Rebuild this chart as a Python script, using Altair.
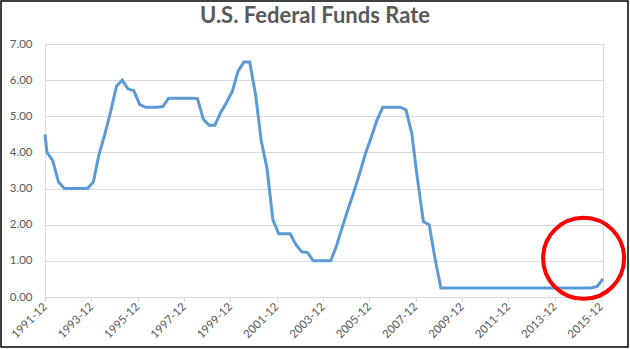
import altair as alt
import pandas as pd

# Quarterly U.S. Federal Funds Rate
dates = (
    ["1991-12-01"]
    + [f"{y}-{m}-01" for y in range(1992, 2016) for m in ("01", "04", "07", "10")]
    + ["2016-01-01"]
)
rates = [
    4.50,
    4.00, 3.77, 3.18, 3.00,   # 1992
    3.00, 3.00, 3.00, 3.00,   # 1993
    3.18, 3.95, 4.50, 5.13,   # 1994
    5.83, 6.00, 5.76, 5.71,   # 1995
    5.33, 5.25, 5.25, 5.25,   # 1996
    5.27, 5.50, 5.50, 5.50,   # 1997
    5.50, 5.50, 5.49, 4.92,   # 1998
    4.75, 4.75, 5.10, 5.38,   # 1999
    5.69, 6.25, 6.50, 6.50,   # 2000
    5.61, 4.32, 3.56, 2.14,   # 2001
    1.75, 1.75, 1.75, 1.45,   # 2002
    1.25, 1.23, 1.00, 1.00,   # 2003
    1.00, 1.00, 1.42, 1.94,   # 2004
    2.44, 2.91, 3.42, 3.97,   # 2005
    4.43, 4.90, 5.25, 5.25,   # 2006
    5.25, 5.25, 5.18, 4.52,   # 2007
    3.22, 2.08, 2.00, 1.06,   # 2008
    0.25, 0.25, 0.25, 0.25,   # 2009
    0.25, 0.25, 0.25, 0.25,   # 2010
    0.25, 0.25, 0.25, 0.25,   # 2011
    0.25, 0.25, 0.25, 0.25,   # 2012
    0.25, 0.25, 0.25, 0.25,   # 2013
    0.25, 0.25, 0.25, 0.25,   # 2014
    0.25, 0.25, 0.25, 0.29,   # 2015
    0.50,                     # 2016
]
tick_years = list(range(1991, 2016, 2))
y_ticks = [0, 1, 2, 3, 4, 5, 6, 7]

# Red circle annotation (centre in data units)
annot_date = ["2015-03-01"]
annot_value = [1.07]

df = pd.DataFrame({"date": dates, "rate": rates})
ann = pd.DataFrame({"date": annot_date, "rate": annot_value})

FONT = "Lato"
GREY = "#595959"
W, H = 558, 253

x_enc = alt.X(
    "date:T",
    scale=alt.Scale(domain=[alt.DateTime(year=1991, month=12, date=1),
                            alt.DateTime(year=2016, month=1, date=1)]),
    axis=alt.Axis(
        values=[alt.DateTime(year=y, month=12, date=1) for y in tick_years],
        format="%Y-%m",
        labelAngle=-45,
        labelAlign="right",
        labelBaseline="middle",
        labelPadding=3,
        labelFont=FONT,
        labelFontSize=11.5,
        labelColor=GREY,
        grid=False,
        domainColor="#d9d9d9",
        domainWidth=1,
        tickColor="#d9d9d9",
        tickSize=5,
        title=None,
        labelOverlap=False,
    ),
)
y_enc = alt.Y(
    "rate:Q",
    scale=alt.Scale(domain=[0, 7]),
    axis=alt.Axis(
        values=y_ticks,
        format=".2f",
        domain=False,
        ticks=False,
        grid=True,
        gridColor="#d9d9d9",
        labelFont=FONT,
        labelFontSize=11.5,
        labelColor=GREY,
        labelPadding=13,
        labelOverlap=False,
        title=None,
    ),
)

line = alt.Chart(df).mark_line(color="#5B9BD5", strokeWidth=3).encode(x=x_enc, y=y_enc)

circle = alt.Chart(ann).mark_point(
    shape="circle", filled=False, size=6561, stroke="#FF0000", strokeWidth=4, opacity=1
).encode(x=x_enc, y=y_enc)

frame = alt.Chart(ann).mark_rect(
    fillOpacity=0, stroke="black", strokeWidth=1.5
).encode(
    x=alt.value(-44), x2=alt.value(W + 25), y=alt.value(-43), y2=alt.value(H + 50)
)

chart = alt.layer(line, circle, frame).properties(
    width=W,
    height=H,
    title=alt.TitleParams(
        "U.S. Federal Funds Rate",
        font=FONT,
        fontSize=22,
        fontWeight="bold",
        color=GREY,
        anchor="middle",
        dx=-9,
        offset=-28,
    ),
    autosize=alt.AutoSizeParams(type="none"),
    padding={"left": 45, "top": 44, "right": 27, "bottom": 52},
).configure_view(stroke=None).configure(background="white")

chart.save("out.html", embed_options={"renderer": "svg", "actions": False})
